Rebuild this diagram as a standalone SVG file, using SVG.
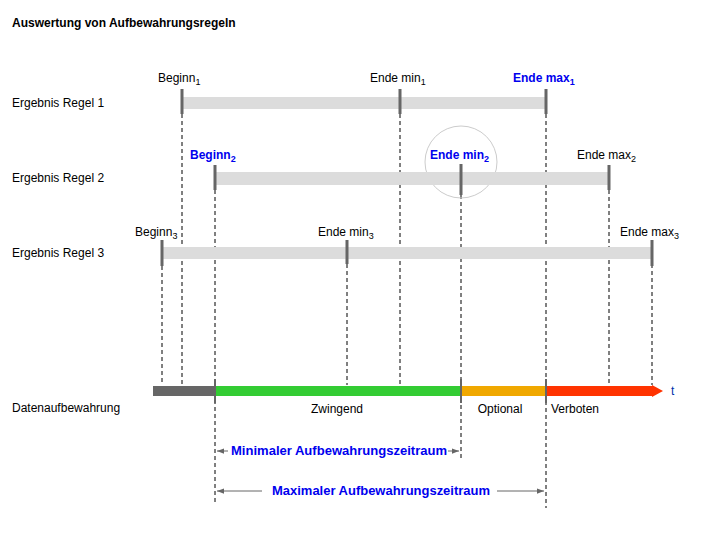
<svg xmlns="http://www.w3.org/2000/svg" width="720" height="540" viewBox="0 0 720 540">
<style>
text{font-family:"Liberation Sans",Arial,sans-serif;font-size:12px;fill:#000}
.b{fill:#0000ee;font-weight:bold}
.bar{fill:#dcdcdc}
.tk{stroke:#666;stroke-width:3}
.d{stroke:#000;stroke-width:1;stroke-dasharray:4,3;fill:none}
.ar{stroke:#666;stroke-width:1;fill:none}
.m{text-anchor:middle}
</style>
<defs>
<marker id="ah" viewBox="0 0 8 8" refX="8" refY="4" markerWidth="7" markerHeight="7" orient="auto-start-reverse"><path d="M0,1L8,4L0,7z" fill="#666"/></marker>
</defs>
<rect width="720" height="540" fill="#fff"/>
<text x="12" y="27" style="font-weight:bold">Auswertung von Aufbewahrungsregeln</text>
<g id="labels">
<text x="12" y="107">Ergebnis Regel 1</text>
<text x="12" y="182">Ergebnis Regel 2</text>
<text x="12" y="257">Ergebnis Regel 3</text>
<text x="12" y="412">Datenaufbewahrung</text>
</g>
<g id="connectors">
<path class="d" d="M162,266V385M182,114V385M215,190V503M347,264V385M400,114V385M461,195V458M546,114V508M609,190V385M652,264V385"/>
<line class="ar" x1="217" y1="451" x2="228" y2="451" marker-start="url(#ah)"/>
<line class="ar" x1="448" y1="451" x2="459" y2="451" marker-end="url(#ah)"/>
<line class="ar" x1="217" y1="491" x2="262" y2="491" marker-start="url(#ah)"/>
<line class="ar" x1="497" y1="491" x2="544" y2="491" marker-end="url(#ah)"/>
</g>
<g id="rule1">
<rect class="bar" x="182" y="97" width="364" height="12"/>
<path class="tk" d="M182,89V114M400,89V114M546,89V114"/>
<text x="158" y="82">Beginn<tspan font-size="9" dy="3">1</tspan></text>
<text x="370" y="82">Ende min<tspan font-size="9" dy="3">1</tspan></text>
<text x="513" y="82" class="b">Ende max<tspan font-size="9" dy="3">1</tspan></text>
</g>
<g id="rule2">
<circle cx="461" cy="162" r="36" fill="none" stroke="#ccc"/>
<rect class="bar" x="215" y="172" width="394" height="13"/>
<path class="tk" d="M215,165V190M461,164V195M609,165V190"/>
<text x="190" y="159" class="b">Beginn<tspan font-size="9" dy="3">2</tspan></text>
<text x="430" y="159" class="b">Ende min<tspan font-size="9" dy="3">2</tspan></text>
<text x="577" y="159">Ende max<tspan font-size="9" dy="3">2</tspan></text>
</g>
<g id="rule3">
<rect class="bar" x="162" y="247" width="490" height="12"/>
<path class="tk" d="M162,240V266M347,240V264M652,240V266"/>
<text x="135" y="236">Beginn<tspan font-size="9" dy="3">3</tspan></text>
<text x="318" y="236">Ende min<tspan font-size="9" dy="3">3</tspan></text>
<text x="620" y="236">Ende max<tspan font-size="9" dy="3">3</tspan></text>
</g>
<g id="timeline">
<rect x="153" y="386" width="62" height="10" fill="#666"/>
<rect x="215" y="386" width="246" height="10" fill="#33cc33"/>
<rect x="461" y="386" width="85" height="10" fill="#f0a800"/>
<rect x="546" y="386" width="108" height="10" fill="#ff3300"/>
<path d="M652,385L663,391L652,397z" fill="#ff3300"/>
<path class="tk" d="M215,379V403M461,379V403M546,379V403" style="stroke-width:2"/>
<text x="671" y="395" style="fill:#0033aa">t</text>
<text x="337" y="413" class="m">Zwingend</text>
<text x="500" y="413" class="m">Optional</text>
<text x="575" y="413" class="m">Verboten</text>
<text x="231" y="455" class="b" textLength="216" lengthAdjust="spacingAndGlyphs">Minimaler Aufbewahrungszeitraum</text>
<text x="272" y="495" class="b" textLength="218" lengthAdjust="spacingAndGlyphs">Maximaler Aufbewahrungszeitraum</text>
</g>
</svg>
